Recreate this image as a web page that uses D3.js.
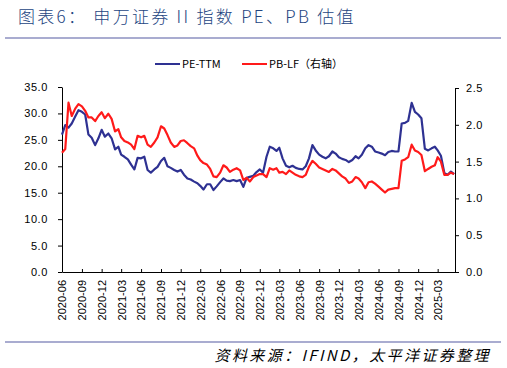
<!DOCTYPE html>
<html>
<head>
<meta charset="utf-8">
<script src="https://cdn.jsdelivr.net/npm/d3@7"></script>
<style>
  body { margin: 0; background: #fff; }
  svg { display: block; font-family: "Liberation Sans", Arial, sans-serif; }
</style>
</head>
<body>
<svg id="chart" width="507" height="368"></svg>
<script>
// quarter labels on the x axis
const tickLabels = ["2020-06", "2020-09", "2020-12", "2021-03", "2021-06", "2021-09", "2021-12",
  "2022-03", "2022-06", "2022-09", "2022-12", "2023-03", "2023-06", "2023-09", "2023-12",
  "2024-03", "2024-06", "2024-09", "2024-12", "2025-03"];

// PE-TTM, two readings a month (1st and 16th), 2020-06 .. 2025-05
const pe = [
  26.0, 27.8, 27.3, 28.1, 29.4, 30.6, 30.3, 29.8, 26.0, 25.4,
  24.0, 25.3, 26.9, 25.6, 26.2, 25.3, 23.2, 23.7, 22.2, 21.8,
  21.3, 20.3, 19.4, 21.6, 21.5, 21.8, 19.3, 18.8, 19.4, 19.9,
  21.0, 21.6, 20.0, 19.7, 19.3, 19.0, 19.3, 18.4, 17.7, 17.5,
  17.1, 16.8, 16.3, 15.6, 16.6, 16.6, 15.5, 16.2, 17.0, 17.7,
  17.3, 17.2, 17.4, 17.2, 17.4, 16.1, 17.8, 18.0, 18.2, 18.9,
  19.4, 18.8, 21.8, 23.7, 23.4, 22.9, 23.5, 21.5, 20.1, 19.8,
  20.1, 19.7, 19.5, 19.4, 20.0, 21.5, 24.0, 23.0, 22.2, 21.8,
  21.5, 21.9, 22.8, 22.4, 21.7, 21.4, 21.2, 20.8, 21.2, 21.9,
  21.5, 22.2, 23.4, 24.0, 23.7, 22.8, 22.6, 22.4, 22.1, 22.7,
  22.9, 22.8, 22.8, 28.1, 28.2, 28.6, 32.0, 30.3, 29.8, 29.1,
  23.3, 23.0, 23.4, 23.7, 23.0, 22.0, 18.7, 18.4, 19.0, 18.5
];

// PB-LF (right axis), same dates
const pb = [
  1.62, 1.67, 2.30, 2.12, 2.22, 2.28, 2.25, 2.19, 2.10, 2.10,
  2.05, 2.12, 2.17, 2.09, 2.15, 2.08, 1.91, 1.94, 1.83, 1.78,
  1.76, 1.73, 1.67, 1.85, 1.83, 1.85, 1.73, 1.70, 1.76, 1.83,
  1.98, 1.95, 1.86, 1.76, 1.70, 1.72, 1.78, 1.79, 1.75, 1.71,
  1.68, 1.58, 1.52, 1.48, 1.46, 1.40, 1.30, 1.29, 1.35, 1.45,
  1.42, 1.36, 1.39, 1.41, 1.38, 1.25, 1.28, 1.23, 1.29, 1.31,
  1.33, 1.33, 1.29, 1.41, 1.39, 1.41, 1.35, 1.36, 1.33, 1.38,
  1.35, 1.32, 1.30, 1.29, 1.32, 1.43, 1.51, 1.47, 1.42, 1.40,
  1.38, 1.36, 1.40, 1.38, 1.34, 1.30, 1.27, 1.21, 1.23, 1.29,
  1.27, 1.22, 1.14, 1.22, 1.23, 1.20, 1.16, 1.12, 1.08, 1.12,
  1.13, 1.14, 1.14, 1.51, 1.53, 1.56, 1.73, 1.65, 1.63, 1.59,
  1.37, 1.40, 1.43, 1.45, 1.56, 1.50, 1.32, 1.32, 1.35, 1.33
];

const months = d3.timeMonth.range(new Date(2020, 5, 1), new Date(2025, 5, 1));
const dates = months.flatMap(m => [m, d3.timeDay.offset(m, 15)]);

const svg = d3.select("#chart");
const blue = "#2e3192", red = "#ff1a1a", rule = "#a9acd0";

const x = d3.scaleTime()
  .domain([new Date(2020, 5, 1), new Date(2025, 4, 20)])
  .range([62, 455]);
const yL = d3.scaleLinear().domain([0, 35]).range([272, 87]);
const yR = d3.scaleLinear().domain([0, 2.5]).range([272, 88]);

// title + rules
svg.append("text")
  .attr("x", 18).attr("y", 23)
  .attr("fill", "#24457f")
  .style("font-family", "'Noto Sans CJK SC', sans-serif")
  .style("font-size", "17px")
  .style("font-weight", 300)
  .style("letter-spacing", "2.3px")
  .text("图表6： 申万证券 II 指数 PE、PB 估值");
svg.append("line").attr("x1", 5).attr("x2", 501).attr("y1", 38).attr("y2", 38)
  .attr("stroke", rule).attr("stroke-width", 2);
svg.append("line").attr("x1", 5).attr("x2", 501).attr("y1", 342).attr("y2", 342)
  .attr("stroke", rule).attr("stroke-width", 2);

// axes
const fmt = d3.format(".1f");
const gL = svg.append("g").attr("transform", "translate(62,0)")
  .call(d3.axisLeft(yL).tickValues(d3.range(0, 36, 5)).tickSize(4).tickSizeOuter(0).tickFormat(fmt));
const gR = svg.append("g").attr("transform", "translate(455,0)")
  .call(d3.axisRight(yR).tickValues(d3.range(0, 2.51, 0.5)).tickSize(4).tickSizeOuter(0).tickFormat(fmt));
const gX = svg.append("g").attr("transform", "translate(0,272)")
  .call(d3.axisBottom(x)
    .tickValues(tickLabels.map(d3.timeParse("%Y-%m")))
    .tickSize(-3).tickSizeOuter(0)
    .tickFormat(d3.timeFormat("%Y-%m")));
gX.selectAll("text")
  .attr("transform", "rotate(-90)")
  .attr("x", -8).attr("y", 0).attr("dy", "0.35em")
  .attr("text-anchor", "end");

[gL, gR, gX].forEach(g => {
  g.selectAll("path, line").attr("stroke", "#000");
  g.selectAll("text").attr("fill", "#000").style("font-size", "11px");
});
gL.selectAll("text").attr("x", -14).style("letter-spacing", "0.6px");
gR.selectAll("text").attr("x", 11).style("letter-spacing", "0.6px");

// series
const peLine = d3.line().x((d, i) => x(dates[i])).y(d => yL(d));
const pbLine = d3.line().x((d, i) => x(dates[i])).y(d => yR(d));
svg.append("path").datum(pe).attr("d", peLine)
  .attr("fill", "none").attr("stroke", blue).attr("stroke-width", 2.2).attr("stroke-linejoin", "round");
svg.append("path").datum(pb).attr("d", pbLine)
  .attr("fill", "none").attr("stroke", red).attr("stroke-width", 2.2).attr("stroke-linejoin", "round");

// legend
const legend = [
  { name: "PE-TTM", color: blue, x: 155 },
  { name: "PB-LF（右轴）", color: red, x: 242 }
];
const lg = svg.append("g").selectAll("g").data(legend).join("g")
  .attr("transform", d => `translate(${d.x},64)`);
lg.append("line").attr("x1", 0).attr("x2", 25).attr("stroke", d => d.color).attr("stroke-width", 2);
lg.append("text").attr("x", 27).attr("dy", "0.35em")
  .style("font-family", "'Noto Sans CJK SC', sans-serif")
  .style("font-size", "11px")
  .text(d => d.name);

// source
svg.append("text")
  .attr("x", 491).attr("y", 361)
  .attr("text-anchor", "end")
  .style("font-family", "'Noto Sans CJK SC', sans-serif")
  .style("font-size", "15px")
  .style("font-style", "italic")
  .style("letter-spacing", "2.4px")
  .text("资料来源：IFIND，太平洋证券整理");
</script>
</body>
</html>
